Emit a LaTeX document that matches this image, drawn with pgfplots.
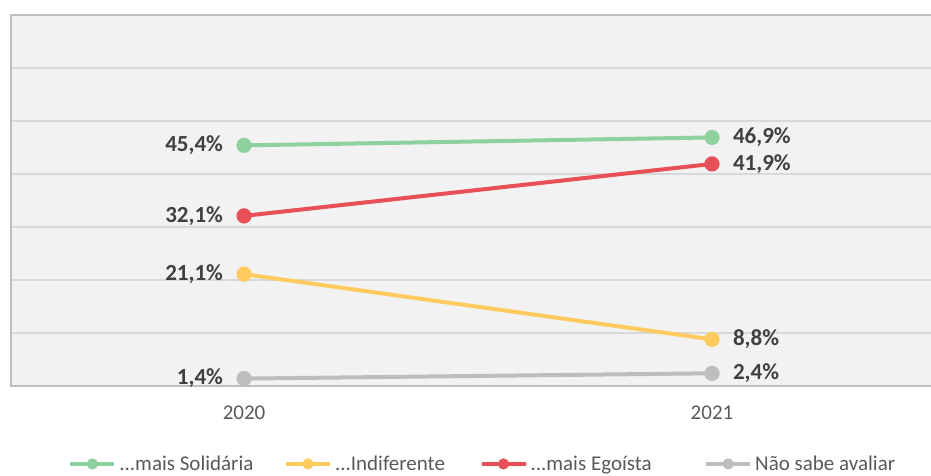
\documentclass[border=0pt]{standalone}
\usepackage{fontspec}
\setmainfont{Carlito}
\usepackage{pgfplots}
\pgfplotsset{compat=1.18}
\definecolor{solgreen}{RGB}{142,208,158}
\definecolor{indyellow}{RGB}{255,202,94}
\definecolor{egored}{RGB}{232,80,88}
\definecolor{nsgray}{RGB}{189,189,189}
\definecolor{bggray}{RGB}{242,242,242}
\definecolor{gridgray}{RGB}{217,217,217}
\definecolor{framegray}{RGB}{191,191,191}
\definecolor{labeltext}{RGB}{64,64,64}
\definecolor{ticktext}{RGB}{89,89,89}

\begin{document}
\begin{tikzpicture}
\path[use as bounding box] (-11pt,-89pt) rectangle (920pt,386pt);
\begin{axis}[
    scale only axis,
    width=920pt, height=371pt,
    xmin=2019.502, xmax=2021.468,
    ymin=0, ymax=70,
    xtick={2020,2021}, xticklabels={2020,2021},
    ytick={0,10,20,30,40,50,60,70}, yticklabels={},
    major tick length=0pt,
    ymajorgrids,
    grid style={line width=1.3pt, color=gridgray},
    axis line style={draw=none},
    axis background/.style={fill=bggray},
    clip=false,
    xticklabel style={font=\fontsize{21}{24}\selectfont, text=ticktext, yshift=-16pt},
    every axis plot/.append style={line width=4pt, mark=*, mark size=7.5pt},
    mark options={solid, line width=0.1pt},
    nodes near coords={\pgfmathprintnumber[use comma, fixed, fixed zerofill, precision=1, assume math mode=true]{\pgfplotspointmeta}\%},
    every node near coord/.append style={font=\fontsize{23}{26}\selectfont\bfseries, text=labeltext, inner sep=0pt},
    coordinate style/.condition={x<2020.5}{anchor=east, xshift=-21pt, yshift=0pt},
    coordinate style/.condition={x>2020.5}{anchor=west, xshift=21pt, yshift=0pt},
    legend columns=4,
    legend style={at={(0.5125,-0.21)}, anchor=center, draw=none, fill=none,
        font=\fontsize{21}{24}\selectfont, text=ticktext,
        column sep=1.5pt, nodes={inner sep=1.5pt},
        /tikz/column 2/.style={column sep=29pt},
        /tikz/column 4/.style={column sep=33pt},
        /tikz/column 6/.style={column sep=51pt}},
    legend image code/.code={\draw[mark repeat=2, mark phase=2, #1, mark size=5.5pt]
        plot coordinates {(0pt,0pt) (22pt,0pt) (44pt,0pt)};},
]
\addplot[color=solgreen] coordinates {(2020,45.4) (2021,46.9)};
\addlegendentry{{.}{.}{.}mais Solidária}
\addplot[color=indyellow] coordinates {(2020,21.1) (2021,8.8)};
\addlegendentry{{.}{.}{.}Indiferente}
\addplot[color=egored] coordinates {(2020,32.1) (2021,41.9)};
\addlegendentry{{.}{.}{.}mais Egoísta}
\addplot[color=nsgray] coordinates {(2020,1.4) (2021,2.4)};
\addlegendentry{Não sabe avaliar}
\draw[framegray, line width=1.6pt] (rel axis cs:1,0) -- (rel axis cs:0,0) -- (rel axis cs:0,1) -- (rel axis cs:1,1);
\end{axis}
\end{tikzpicture}
\end{document}
